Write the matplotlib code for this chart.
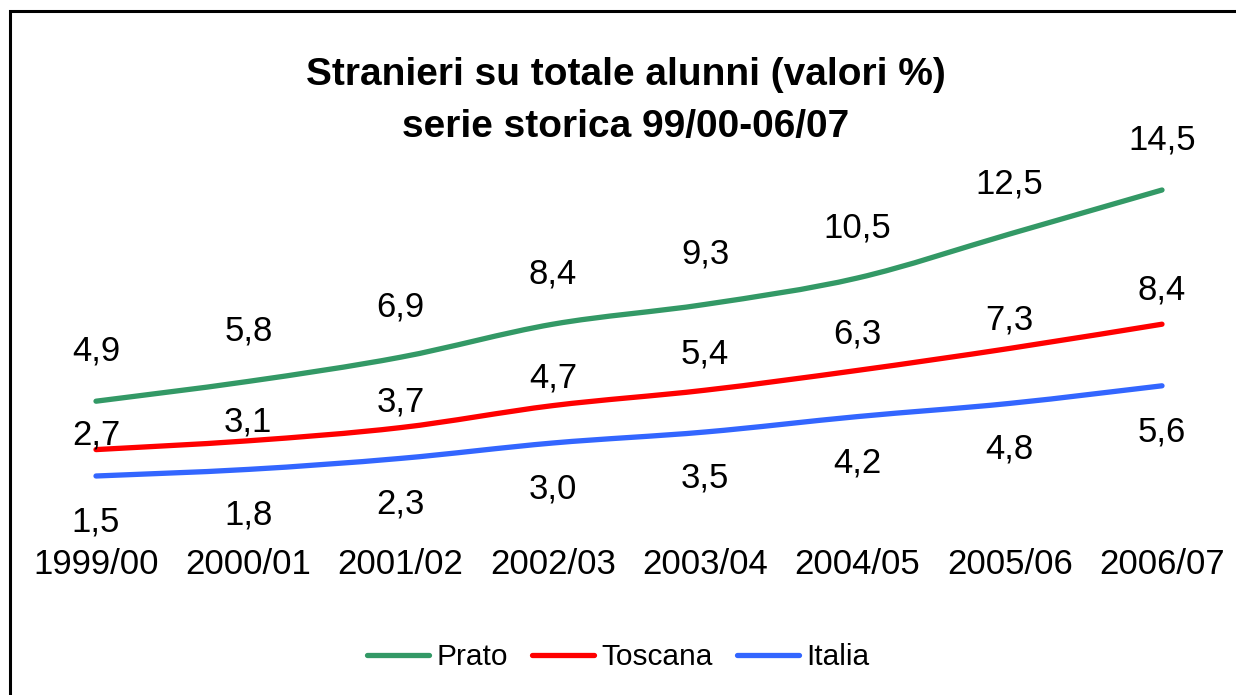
import matplotlib.pyplot as plt
import numpy as np
from matplotlib.path import Path
from matplotlib.patches import PathPatch, Rectangle
from matplotlib.lines import Line2D

plt.rcParams['font.family'] = ['Liberation Sans', 'DejaVu Sans']

years = ["1999/00", "2000/01", "2001/02", "2002/03",
         "2003/04", "2004/05", "2005/06", "2006/07"]
prato = [4.9, 5.8, 6.9, 8.4, 9.3, 10.5, 12.5, 14.5]
toscana = [2.7, 3.1, 3.7, 4.7, 5.4, 6.3, 7.3, 8.4]
italia = [1.5, 1.8, 2.3, 3.0, 3.5, 4.2, 4.8, 5.6]

# label offsets in pixels (Excel positioned them a bit by hand)
toscana_dy = [15, 19, 26, 28, 36, 36, 28, 34]


def smooth_path(x, y):
    # Excel-like smoothed line: cubic Bezier through every point
    pts = np.column_stack([x, y]).astype(float)
    n = len(pts)
    verts = [pts[0]]
    codes = [Path.MOVETO]
    for i in range(n - 1):
        p0 = pts[i - 1] if i > 0 else pts[i]
        p1 = pts[i]
        p2 = pts[i + 1]
        p3 = pts[i + 2] if i + 2 < n else pts[i + 1]
        c1 = p1 + (p2 - p0) / 6.0
        c2 = p2 - (p3 - p1) / 6.0
        verts += [c1, c2, p2]
        codes += [Path.CURVE4] * 3
    return Path(verts, codes)


W, H = 1236, 695
fig = plt.figure(figsize=(W / 100, H / 100), dpi=100)

# plot area: 0 at y=509px, 14.5 at y=190px
ax = fig.add_axes([96 / W, (H - 509) / H, (1162 - 96) / W, (509 - 190) / H])
ax.set_xlim(0, 7)
ax.set_ylim(0, 14.5)
ax.axis('off')

x = np.arange(len(years))
series = [
    (prato, '#339966', 'Prato', [50] * 8),
    (toscana, '#ff0000', 'Toscana', toscana_dy),
    (italia, '#3366ff', 'Italia', [-46] * 8),
]

for vals, col, name, dys in series:
    patch = PathPatch(smooth_path(x, vals), facecolor='none', edgecolor=col,
                      lw=3.8, capstyle='round', joinstyle='round', clip_on=False)
    ax.add_patch(patch)
    for xi, v, dy in zip(x, vals, dys):
        ax.annotate(f"{v:.1f}".replace('.', ','), (xi, v),
                    xytext=(0, dy * 0.72), textcoords='offset points',
                    ha='center', va='center', fontsize=25, color='black',
                    annotation_clip=False)

for xi, lab in zip(x, years):
    ax.annotate(lab, (xi, 0), xytext=(0, -56 * 0.72), textcoords='offset points',
                ha='center', va='center', fontsize=25, annotation_clip=False)

fig.text(626 / W, 1 - 75 / H, "Stranieri su totale alunni (valori %)",
         ha='center', va='center', fontsize=28, fontweight='bold')
fig.text(626 / W, 1 - 127 / H, "serie storica 99/00-06/07",
         ha='center', va='center', fontsize=28, fontweight='bold')

handles = [Line2D([], [], color=c, lw=3.8, solid_capstyle='round') for _, c, _, _ in series]
names = [s[2] for s in series]
fig.legend(handles, names, loc='center', bbox_to_anchor=(618 / W, 1 - 657 / H),
           ncol=3, frameon=False, fontsize=21.5, handlelength=2.1,
           handletextpad=0.23, columnspacing=0.8)

# outer chart border (right and bottom edges fall outside the crop)
fig.add_artist(Rectangle((10 / W, -0.1), 1.2, 1 - 11 / H + 0.1,
                         transform=fig.transFigure, fill=False,
                         edgecolor='black', lw=2.2))

fig.savefig('out.png', dpi=100)
